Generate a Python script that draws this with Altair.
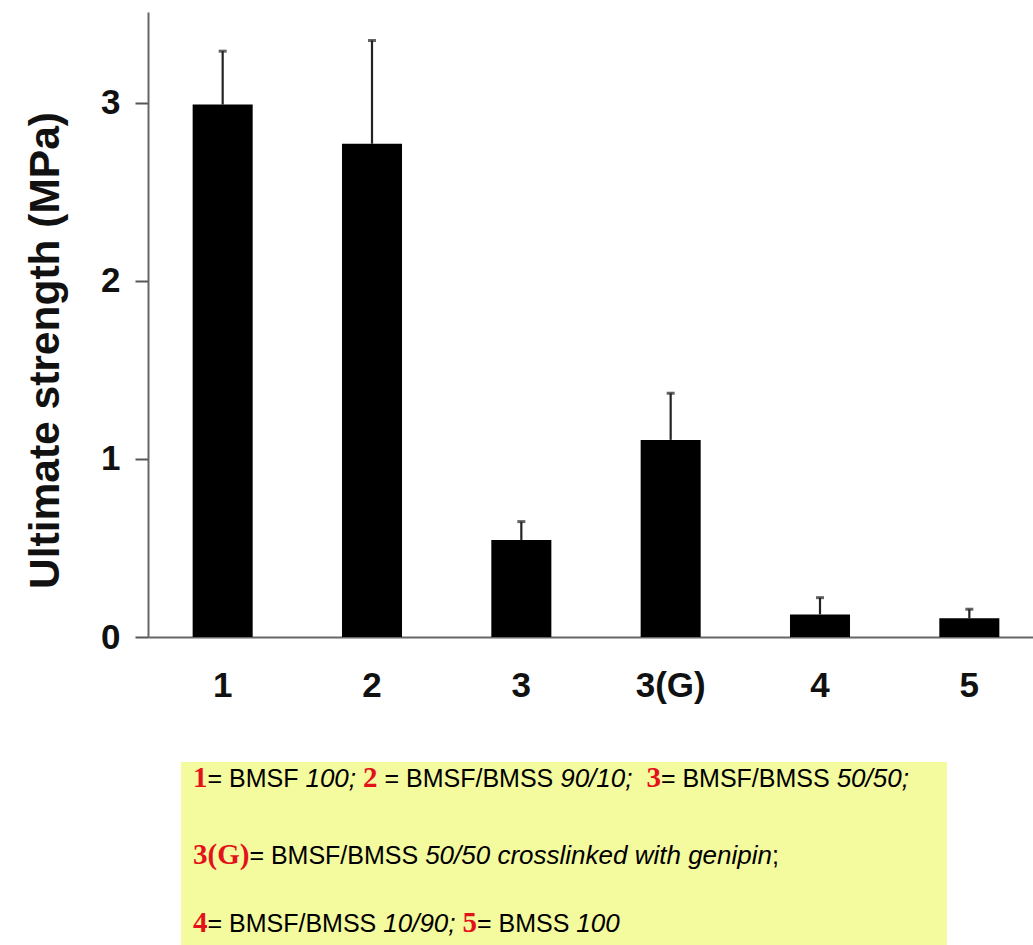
import altair as alt
import pandas as pd

# ---- data ----
groups = ["1", "2", "3", "3(G)", "4", "5"]
strength = [2.99, 2.77, 0.545, 1.107, 0.127, 0.105]
err_upper = [3.29, 3.35, 0.648, 1.369, 0.221, 0.156]

df = pd.DataFrame({"group": groups, "strength": strength, "upper": err_upper})

# ---- legend text: one list of (text, style) segments per line ----
legend_lines = [
    [("1", "num"), ("= BMSF ", "txt"), ("100;", "ital"), (" ", "txt"), ("2", "num"),
     (" = BMSF/BMSS ", "txt"), ("90/10;", "ital"), ("  ", "txt"), ("3", "num"),
     ("= BMSF/BMSS ", "txt"), ("50/50;", "ital")],
    [("3(G)", "num"), ("= BMSF/BMSS ", "txt"), ("50/50 crosslinked with genipin", "ital"),
     (";", "txt")],
    [("4", "num"), ("= BMSF/BMSS ", "txt"), ("10/90;", "ital"), (" ", "txt"), ("5", "num"),
     ("= BMSS ", "txt"), ("100", "ital")],
]

# ---- layout ----
ORX, ORY = 148, 12
W, H = 885, 625
LEG_X0 = 193
line_base = [787, 864, 932]
FS = {"num": 29, "txt": 25, "ital": 26}

# approximate advance widths (em) of the fonts used
SANS_W = {c: 0.556 for c in "0123456789"}
SANS_W.update({"=": 0.584, " ": 0.278, "B": 0.667, "M": 0.833, "S": 0.667, "F": 0.611,
               "/": 0.278, ";": 0.278, "c": 0.5, "r": 0.333, "o": 0.556, "s": 0.5,
               "l": 0.222, "i": 0.222, "n": 0.556, "k": 0.5, "e": 0.556, "d": 0.556,
               "w": 0.722, "t": 0.278, "h": 0.556, "g": 0.556, "p": 0.556})
SERIF_W = {c: 0.5 for c in "0123456789"}
SERIF_W.update({"(": 0.333, ")": 0.333, "G": 0.778})


def seg_width(text, kind):
    table = SERIF_W if kind == "num" else SANS_W
    return sum(table.get(ch, 0.55) for ch in text) * FS[kind]


rows = []
for li, segs in enumerate(legend_lines):
    x = LEG_X0
    for text, kind in segs:
        lead = len(text) - len(text.lstrip(" "))
        x_start = x + lead * SANS_W[" "] * FS[kind]
        if text.strip():
            rows.append({"t": text.strip(), "kind": kind,
                         "px": x_start - ORX, "py": line_base[li] - ORY})
        x += seg_width(text, kind)
leg = pd.DataFrame(rows)

SANS = "'Liberation Sans', Arial, sans-serif"
SERIF = "'Liberation Serif', 'Times New Roman', serif"

xscale = alt.Scale(domain=groups, range=[0, 896], paddingInner=0.598, paddingOuter=0.299)
yscale = alt.Scale(domain=[0, 3.51], nice=False, zero=True)

xaxis = alt.Axis(
    title=None, labelAngle=0, ticks=False, tickSize=0, labelPadding=48,
    labelBaseline="middle", labelFont=SANS, labelFontSize=35, labelFontWeight="bold",
    labelColor="#111111", domainColor="#666666", domainWidth=2, grid=False,
)
yaxis = alt.Axis(
    title="Ultimate strength (MPa)", values=[0, 1, 2, 3], format="d",
    tickSize=13, tickColor="#555555", tickWidth=2, labelPadding=15,
    labelFont=SANS, labelFontSize=35, labelFontWeight="bold", labelColor="#111111",
    domainColor="#666666", domainWidth=2, grid=False,
    titleFont=SANS, titleFontSize=42.5, titleFontWeight="bold", titleColor="#111111",
    titleAngle=270, titleX=-90, titleY=338, titleAlign="center", titleBaseline="alphabetic",
)

base = alt.Chart(df)

bars = base.mark_bar(color="#000000").encode(
    x=alt.X("group:N", scale=xscale, axis=xaxis, sort=groups),
    y=alt.Y("strength:Q", scale=yscale, axis=yaxis),
)
err = base.mark_rule(color="#222222", strokeWidth=2.2).encode(
    x=alt.X("group:N", scale=xscale, sort=groups),
    y=alt.Y("strength:Q", scale=yscale),
    y2="upper:Q",
)
caps = base.mark_tick(color="#222222", size=8, thickness=3, orient="horizontal").encode(
    x=alt.X("group:N", scale=xscale, sort=groups),
    y=alt.Y("upper:Q", scale=yscale),
)

box = alt.Chart(pd.DataFrame({"a": [0]})).mark_rect(color="#f4fa9e").encode(
    x=alt.value(181 - ORX), x2=alt.value(947 - ORX),
    y=alt.value(762 - ORY), y2=alt.value(945 - ORY),
)

legc = alt.Chart(leg)
enc = dict(x=alt.X("px:Q", scale=None), y=alt.Y("py:Q", scale=None), text="t:N")
leg_num = legc.transform_filter(alt.datum.kind == "num").mark_text(
    align="left", baseline="alphabetic", font=SERIF, fontSize=FS["num"], fontWeight="bold",
    color="#e3121a",
).encode(**enc)
leg_txt = legc.transform_filter(alt.datum.kind == "txt").mark_text(
    align="left", baseline="alphabetic", font=SANS, fontSize=FS["txt"], color="#000000",
).encode(**enc)
leg_ital = legc.transform_filter(alt.datum.kind == "ital").mark_text(
    align="left", baseline="alphabetic", font=SANS, fontSize=FS["ital"], fontStyle="italic",
    color="#000000",
).encode(**enc)

chart = alt.layer(bars, err, caps, box, leg_num, leg_txt, leg_ital).properties(
    width=W, height=H,
    autosize=alt.AutoSizeParams(type="none"),
    padding={"left": ORX, "top": ORY, "right": 0, "bottom": 945 - ORY - H},
    background="white",
).configure_view(stroke=None)

chart.save("out.html", embed_options={"renderer": "svg", "actions": False})
